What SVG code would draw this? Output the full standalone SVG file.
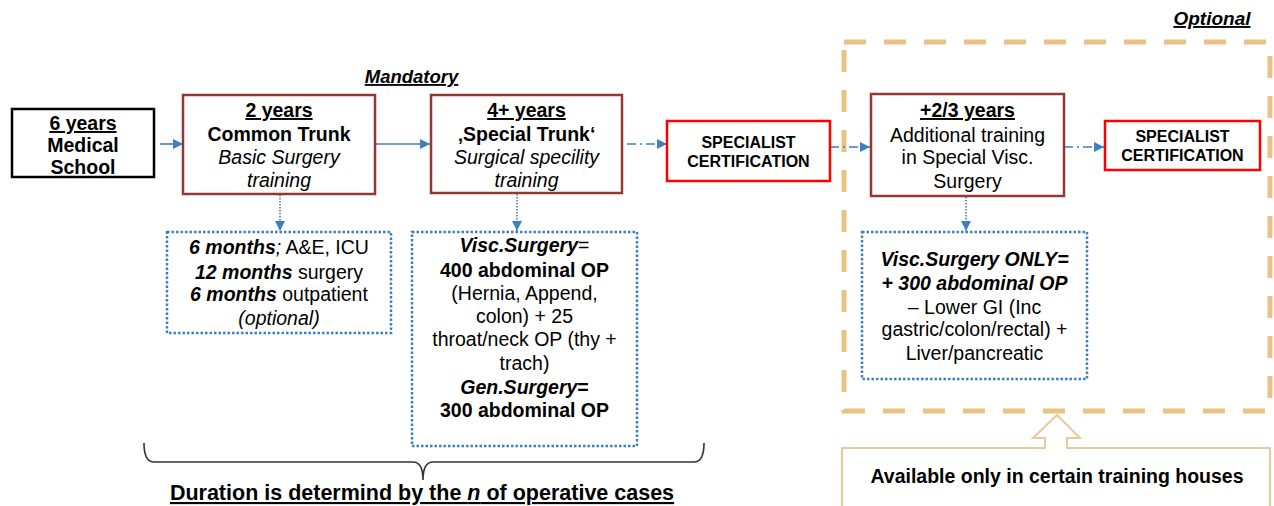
<svg xmlns="http://www.w3.org/2000/svg" width="1274" height="506" viewBox="0 0 1274 506">
<defs>
<marker id="ah" markerUnits="userSpaceOnUse" markerWidth="11" markerHeight="10" refX="10" refY="5" orient="auto">
<path d="M0,0 L10,5 L0,10 Z" fill="#3D7FC1"/>
</marker>
<style>
text{font-family:"Liberation Sans",Arial,sans-serif;font-size:19.5px;fill:#000;text-anchor:middle}
.b{font-weight:bold}
.i{font-style:italic}
.u{text-decoration:underline}
.cert{font-size:16px;font-weight:bold}
.trunk{fill:#fff;stroke:#953735;stroke-width:2.5}
.certbox{fill:#fff;stroke:#FF0000;stroke-width:2.5}
.dotbox{fill:#fff;stroke:#3D7FC1;stroke-width:2.5;stroke-dasharray:2.5 2}
.arr{stroke:#3D7FC1;stroke-width:1.6;fill:none;marker-end:url(#ah)}
.dd{stroke-dasharray:9 4 2 4}
.dot{stroke-dasharray:1.5 1.5}
</style>
</defs>
<rect width="1274" height="506" fill="#fff"/>

<g id="labels">
<text x="411.5" y="83" class="b i u" style="font-size:18.5px">Mandatory</text>
<text x="1212" y="25" class="b i u" style="font-size:19px">Optional</text>
</g>

<g id="optional-frame">
<rect x="844" y="42" width="426" height="369" fill="none" stroke="#E9C384" stroke-width="5" stroke-dasharray="22 18"/>
</g>

<g id="connectors">
<line x1="160" y1="144" x2="183" y2="144" class="arr"/>
<line x1="375" y1="144" x2="430" y2="144" class="arr"/>
<line x1="627" y1="144" x2="667" y2="144" class="arr dd"/>
<line x1="830" y1="147" x2="870" y2="147" class="arr dd"/>
<line x1="1064" y1="147" x2="1104" y2="147" class="arr dd"/>
<line x1="280" y1="195" x2="280" y2="231" class="arr dot"/>
<line x1="517" y1="194" x2="517" y2="231" class="arr dot"/>
<line x1="966" y1="197" x2="966" y2="231" class="arr dot"/>
<path d="M144,443 Q144,462 154,462 L413,462 Q423,462 423,480 Q423,462 433,462 L694,462 Q704,462 704,443" fill="none" stroke="#333" stroke-width="1.6"/>
</g>

<g id="medical-school">
<rect x="12" y="109" width="142" height="68" fill="#fff" stroke="#000" stroke-width="2.5"/>
<text x="83" y="130" class="b u">6 years</text>
<text x="83" y="152" class="b">Medical</text>
<text x="83" y="174" class="b">School</text>
</g>

<g id="common-trunk">
<rect x="183" y="95" width="192" height="99" class="trunk"/>
<text x="279" y="117" class="b u">2 years</text>
<text x="279" y="141" class="b">Common Trunk</text>
<text x="279" y="164" class="i">Basic Surgery</text>
<text x="279" y="187" class="i">training</text>
</g>

<g id="special-trunk">
<rect x="431" y="95" width="191" height="98" class="trunk"/>
<text x="526.5" y="117" class="b u">4+ years</text>
<text x="526.5" y="141" class="b">‚Special Trunk‘</text>
<text x="526.5" y="164" class="i">Surgical specility</text>
<text x="526.5" y="187" class="i">training</text>
</g>

<g id="cert1">
<rect x="667" y="121" width="163" height="60" class="certbox"/>
<text x="748.5" y="148" class="cert">SPECIALIST</text>
<text x="748.5" y="167" class="cert">CERTIFICATION</text>
</g>

<g id="additional">
<rect x="871" y="94" width="193" height="102" class="trunk"/>
<text x="967.5" y="117" class="b u">+2/3 years</text>
<text x="967.5" y="142">Additional training</text>
<text x="967.5" y="164">in Special Visc.</text>
<text x="967.5" y="188">Surgery</text>
</g>

<g id="cert2">
<rect x="1105" y="121" width="155" height="49" class="certbox"/>
<text x="1182.5" y="142" class="cert">SPECIALIST</text>
<text x="1182.5" y="161" class="cert">CERTIFICATION</text>
</g>

<g id="basic-detail">
<rect x="167" y="232" width="224" height="101" class="dotbox"/>
<text x="279" y="254"><tspan class="b i">6 months</tspan><tspan class="i">;</tspan> A&amp;E, ICU</text>
<text x="279" y="279"><tspan class="b i">12 months</tspan> surgery</text>
<text x="279" y="301"><tspan class="b i">6 months</tspan> outpatient</text>
<text x="279" y="325" class="i">(optional)</text>
</g>

<g id="special-detail">
<rect x="412" y="232" width="225" height="214" class="dotbox"/>
<text x="524.5" y="252"><tspan class="b i">Visc.Surgery</tspan>=</text>
<text x="524.5" y="277" class="b">400 abdominal OP</text>
<text x="524.5" y="300">(Hernia, Append,</text>
<text x="524.5" y="323">colon) + 25</text>
<text x="524.5" y="346">throat/neck OP (thy +</text>
<text x="524.5" y="370">trach)</text>
<text x="524.5" y="394"><tspan class="b i">Gen.Surgery</tspan><tspan class="b">=</tspan></text>
<text x="524.5" y="417" class="b">300 abdominal OP</text>
</g>

<g id="visc-detail">
<rect x="862" y="232" width="225" height="147" class="dotbox"/>
<text x="974.5" y="266" class="b i">Visc.Surgery ONLY=</text>
<text x="974.5" y="290" class="b i">+ 300 abdominal OP</text>
<text x="974.5" y="314">– Lower GI (Inc</text>
<text x="974.5" y="336">gastric/colon/rectal) +</text>
<text x="974.5" y="360">Liver/pancreatic</text>
</g>

<g id="availability">
<path d="M842,506 L842,448 L1045,448 L1045,438 L1033,438 L1057,415 L1080,438 L1067,438 L1067,448 L1270,448 L1270,506" fill="#fff" stroke="#E6CB9F" stroke-width="2"/>
<text x="1057" y="483" class="b">Available only in certain training houses</text>
</g>

<g id="duration">
<text x="422" y="500" class="b u" style="font-size:21.5px">Duration is determind by the <tspan class="i">n</tspan> of operative cases</text>
</g>
</svg>
